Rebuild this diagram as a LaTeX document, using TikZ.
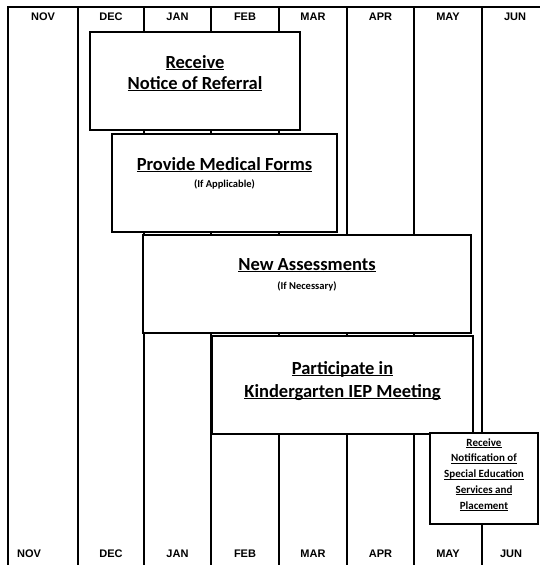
\documentclass[tikz,border=0pt]{standalone}
\usepackage{fontspec}
\setmainfont{Carlito}
\newfontfamily\monthfont{Liberation Sans}
\newcommand{\taskul}[1]{\underline{\smash{#1}}}

\begin{document}
\begin{tikzpicture}[x=1pt,y=-1pt,line cap=rect,line width=1.2pt,
  monthlbl/.style={font=\monthfont\bfseries\fontsize{11}{13}\selectfont,inner sep=0pt},
  taskbox/.style={draw,line width=1.3pt,fill=white,inner sep=0pt},
  tasktitle/.style={font=\bfseries\fontsize{18.5}{22}\selectfont,anchor=base,inner sep=0pt},
  tasknote/.style={font=\bfseries\fontsize{10.5}{12}\selectfont,anchor=base,inner sep=0pt}]
\useasboundingbox (0,0) rectangle (540,565);
% month columns
\draw (8,565) -- (8,7) -- (540,7);
\draw (78,7) -- (78,565);
\draw (144,7) -- (144,565);
\draw (211,7) -- (211,565);
\draw (279,7) -- (279,565);
\draw (347,7) -- (347,565);
\draw (414,7) -- (414,565);
\draw (482,7) -- (482,565);
% month names, top
\node[monthlbl] (nov-top) at (43,16.5) {NOV};
\node[monthlbl] (dec-top) at (111,16.5) {DEC};
\node[monthlbl] (jan-top) at (177.5,16.5) {JAN};
\node[monthlbl] (feb-top) at (245,16.5) {FEB};
\node[monthlbl] (mar-top) at (313,16.5) {MAR};
\node[monthlbl] (apr-top) at (380.5,16.5) {APR};
\node[monthlbl] (may-top) at (448,16.5) {MAY};
\node[monthlbl] (jun-top) at (515,16.5) {JUN};
% month names, bottom
\node[monthlbl] (nov-bot) at (29,554) {NOV};
\node[monthlbl] (dec-bot) at (111,554) {DEC};
\node[monthlbl] (jan-bot) at (177.5,554) {JAN};
\node[monthlbl] (feb-bot) at (245,554) {FEB};
\node[monthlbl] (mar-bot) at (313,554) {MAR};
\node[monthlbl] (apr-bot) at (380.5,554) {APR};
\node[monthlbl] (may-bot) at (448,554) {MAY};
\node[monthlbl] (jun-bot) at (511,554) {JUN};
% steps
\node[taskbox,minimum width=210pt,minimum height=98pt] (referral) at (195,81) {};
\node[tasktitle] (referral-l1) at (195,68) {\taskul{Receive}};
\node[tasktitle] (referral-l2) at (195,89) {\taskul{Notice of Referral}};
\node[taskbox,minimum width=225pt,minimum height=98pt] (medical) at (224.5,183) {};
\node[tasktitle] (medical-l1) at (224.5,170) {\taskul{Provide Medical Forms}};
\node[tasknote] (medical-note) at (224.5,187) {(If Applicable)};
\node[taskbox,minimum width=328pt,minimum height=98pt] (assess) at (307,284) {};
\node[tasktitle] (assess-l1) at (307,270) {\taskul{New Assessments}};
\node[tasknote] (assess-note) at (307,289) {(If Necessary)};
\node[taskbox,minimum width=261pt,minimum height=98pt] (iep) at (342.5,385) {};
\node[tasktitle] (iep-l1) at (342.5,374) {\taskul{Participate in}};
\node[tasktitle] (iep-l2) at (342.5,397) {\taskul{Kindergarten IEP Meeting}};
\node[taskbox,minimum width=108pt,minimum height=91pt,align=center,
  font=\bfseries\fontsize{11}{15.75}\selectfont] (placement) at (484,478.5)
  {\taskul{Receive}\\\taskul{Notification of}\\\taskul{Special Education}\\
   \taskul{Services and}\\\taskul{Placement}};
\end{tikzpicture}
\end{document}
